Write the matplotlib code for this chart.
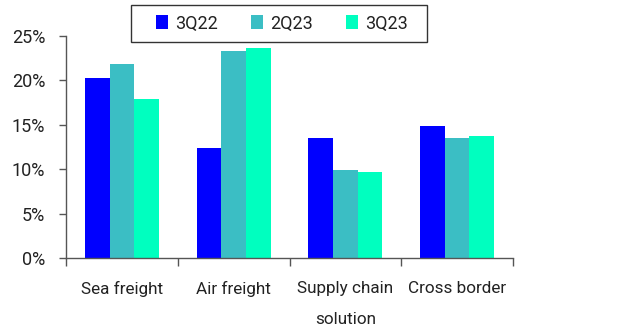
import matplotlib
matplotlib.use("Agg")
import matplotlib.pyplot as plt
from matplotlib.patches import Rectangle
import numpy as np

categories = ["Sea freight", "Air freight", "Supply chain\nsolution", "Cross border"]
series_names = ["3Q22", "2Q23", "3Q23"]
v_3q22 = [20.25, 12.4, 13.5, 14.85]
v_2q23 = [21.9, 23.35, 9.9, 13.5]
v_3q23 = [17.9, 23.6, 9.7, 13.75]
colors = ["#0000FF", "#3BBEC4", "#00FFBF"]
yticks = [0, 5, 10, 15, 20, 25]

plt.rcParams["font.family"] = ["Roboto", "DejaVu Sans"]

W, H = 626, 333
fig = plt.figure(figsize=(W / 100, H / 100), dpi=100)
ax = fig.add_axes([66 / W, 1 - 258.3 / H, (513 - 66) / W, (258.3 - 36) / H])

x = np.arange(len(categories))
w = 0.22
for i, (vals, name, c) in enumerate(zip([v_3q22, v_2q23, v_3q23], series_names, colors)):
    ax.bar(x + (i - 1) * w, vals, width=w, color=c, label=name, edgecolor="none")

ax.set_xlim(-0.5, len(categories) - 0.5)
ax.set_ylim(0, 25)
ax.set_yticks(yticks)
ax.set_yticklabels([f"{t}%" for t in yticks], fontsize=13, color="#222222")

# category ticks sit at the group boundaries; labels go in between
ax.set_xticks(np.arange(len(categories) + 1) - 0.5)
ax.set_xticklabels([])
ax.tick_params(axis="x", length=6, color="#555555", width=1)
ax.tick_params(axis="y", length=5, color="#555555", width=1, pad=10)
for xi, lab in zip(x, categories):
    ax.text(xi, -2.6, lab, ha="center", va="top", fontsize=12.3, color="#222222",
            linespacing=2.3, transform=ax.transData)

for s in ["top", "right"]:
    ax.spines[s].set_visible(False)
for s in ["left", "bottom"]:
    ax.spines[s].set_color("#555555")
    ax.spines[s].set_linewidth(1)

# legend frame drawn as a plain box, entries centred inside it
fig.add_artist(Rectangle((131 / W, 1 - 42 / H), (427 - 131) / W, (42 - 5) / H,
                         transform=fig.transFigure, facecolor="white",
                         edgecolor="#333333", linewidth=1, zorder=5))
leg = fig.legend(loc="center", bbox_to_anchor=(282 / W, 1 - 23.5 / H), ncol=3,
                 fontsize=13, frameon=False,
                 handlelength=0.66, handleheight=0.83, handletextpad=0.4,
                 columnspacing=1.83, borderpad=0, borderaxespad=0)
leg.set_zorder(6)
for t in leg.get_texts():
    t.set_color("#222222")

fig.savefig("out.png", dpi=100)
